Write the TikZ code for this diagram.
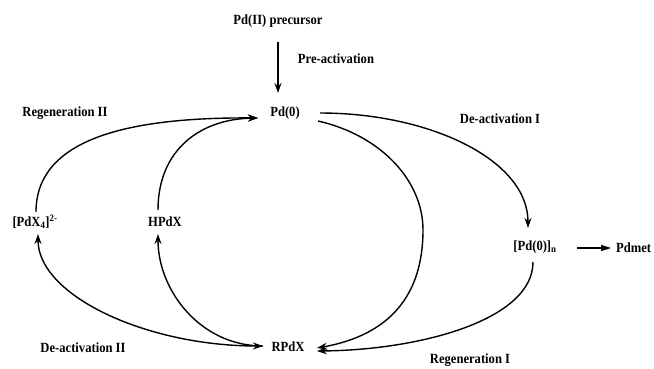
\documentclass[tikz,border=0pt]{standalone}
\usepackage{fontspec}
\setmainfont[FakeStretch=0.9]{Liberation Serif}
\usetikzlibrary{arrows.meta}
\begin{document}
\begin{tikzpicture}[x=1pt,y=-1pt,
  lbl/.style={font=\fontsize{14}{16}\selectfont\bfseries, inner sep=1pt},
  conn/.style={line width=1.4pt, -{Stealth[length=10pt,width=7pt]}},
  conn2/.style={line width=1.4pt, {Stealth[length=10pt,width=7pt]}-{Stealth[length=10pt,width=7pt]}},
]
\useasboundingbox (0,0) rectangle (654,368);

% species
\node[lbl] (pre)   at (278,21)  {Pd(II) precursor};
\node[lbl] (pd0)   at (285,113) {Pd(0)};
\node[lbl] (pdx4)  at (35,222)  {[PdX\textsubscript{4}]\textsuperscript{2-}};
\node[lbl] (hpdx)  at (165,222) {HPdX};
\node[lbl] (pd0n)  at (535,247) {[Pd(0)]\textsubscript{n}};
\node[lbl, anchor=west] (pdmet) at (615,248) {Pdmet};
\node[lbl] (rpdx)  at (288,347) {RPdX};

% process labels
\node[lbl] (preact)  at (336,59)  {Pre-activation};
\node[lbl] (regII)   at (65,113)  {Regeneration II};
\node[lbl] (deactI)  at (500,119) {De-activation I};
\node[lbl] (deactII) at (83,348)  {De-activation II};
\node[lbl] (regI)    at (470,360) {Regeneration I};

% pre-activation
\draw[conn] ([shift={(0,21)}]pre.center) -- ([shift={(-7,-20)}]pd0.center);

% regeneration II
\draw[conn] ([shift={(1,-10)}]pdx4.center) .. controls (36,140) and (125,117) .. ([shift={(-27,5)}]pd0.center);
\draw[conn] ([shift={(-7,-12)}]hpdx.center) .. controls (158,150) and (200,119) .. ([shift={(-27,5)}]pd0.center);

% de-activation II and RPdX -> HPdX
\draw[conn2] ([shift={(-25,-1)}]rpdx.center) .. controls (145,346) and (38,295) .. ([shift={(3,12)}]pdx4.center);
\draw[conn] ([shift={(-25,-1)}]rpdx.center) .. controls (200,346) and (158,290) .. ([shift={(-7,12)}]hpdx.center);

% Pd(0) -> RPdX
\draw[conn] ([shift={(33,8)}]pd0.center) .. controls (380,135) and (423,180) .. (423,230)
   .. controls (423,295) and (390,335) .. ([shift={(29,1)}]rpdx.center);

% de-activation I
\draw[conn] ([shift={(35,0)}]pd0.center) .. controls (430,113) and (528,160) .. ([shift={(-7,-19)}]pd0n.center);

% regeneration I
\draw[conn] ([shift={(-2,15)}]pd0n.center) .. controls (533,320) and (420,350) .. ([shift={(29,4)}]rpdx.center);

% to Pdmet
\draw[line width=1.4pt, -{Triangle[length=10pt,width=6pt]}] ([shift={(42,1)}]pd0n.center) -- ([xshift=-4pt]pdmet.west);
\end{tikzpicture}
\end{document}
